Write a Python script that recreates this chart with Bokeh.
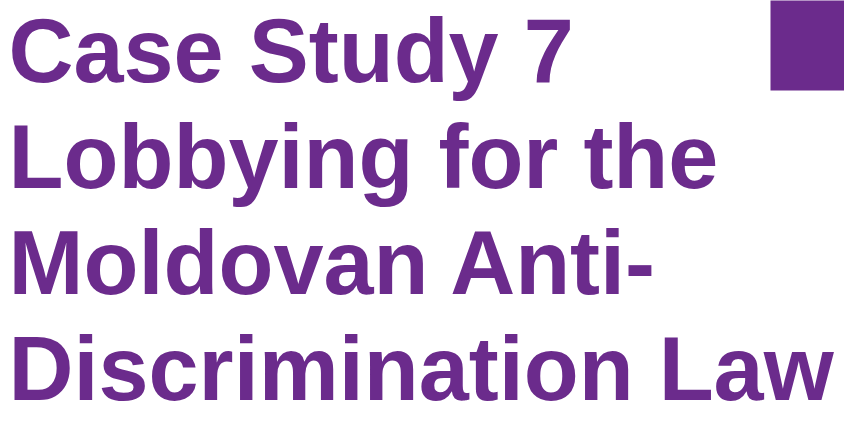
from bokeh.plotting import figure
from bokeh.models import Range1d, ColumnDataSource
from bokeh.core.properties import value
from bokeh.embed import file_html
from bokeh.resources import INLINE

# Title lines
title_lines = ["Case Study 7", "Lobbying for the", "Moldovan Anti-", "Discrimination Law"]
line_index = [0, 1, 2, 3]

PURPLE = "#6B2B8C"

W, H = 844, 419
p = figure(width=W, height=H, output_backend="svg", toolbar_location=None,
           x_range=Range1d(0, W), y_range=Range1d(H, 0),
           min_border=0, min_border_left=0, min_border_right=0,
           min_border_top=0, min_border_bottom=0)
p.axis.visible = False
p.grid.visible = False
p.outline_line_color = None
p.background_fill_color = "white"
p.border_fill_color = "white"

# purple block top-right
p.quad(left=[770], right=[W + 20], top=[-20], bottom=[90], fill_color=PURPLE, line_color=None)

first_center = 50.6
spacing = 105.9
src = ColumnDataSource(dict(
    x=[8] * len(title_lines),
    y=[first_center + spacing * i for i in line_index],
    t=title_lines,
))
p.text(x="x", y="y", text="t", source=src, text_font=value("Liberation Sans"),
       text_font_style="bold", text_font_size="90px", text_color=PURPLE,
       text_align="left", text_baseline="alphabetic")

open("out.html", "w").write(file_html(p, INLINE))
